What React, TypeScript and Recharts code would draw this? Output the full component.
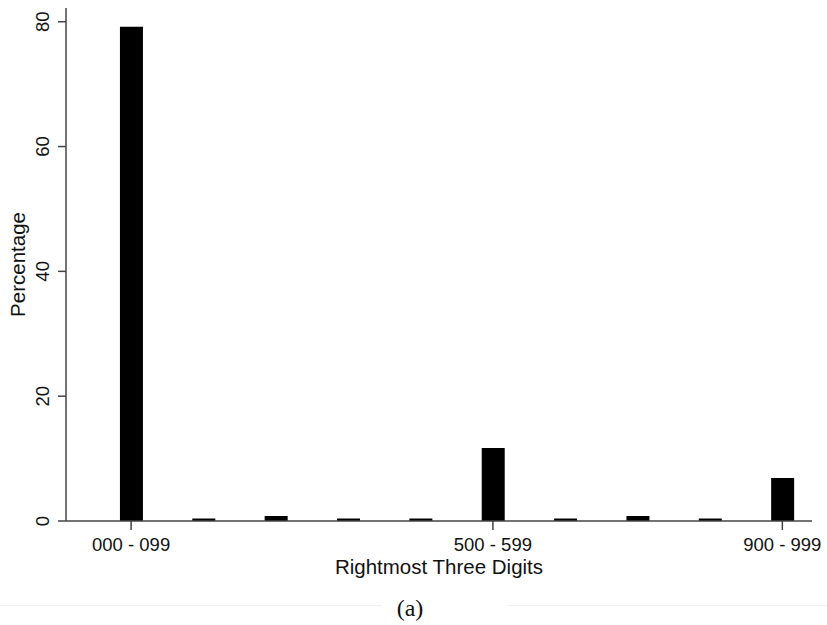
import React from 'react';
import { BarChart, Bar, XAxis, YAxis, Label } from 'recharts';

// Share of values by their rightmost three digits, in bins of 100
const binIndex = [0, 1, 2, 3, 4, 5, 6, 7, 8, 9];
const binLabels = [
  '000 - 099', '100 - 199', '200 - 299', '300 - 399', '400 - 499',
  '500 - 599', '600 - 699', '700 - 799', '800 - 899', '900 - 999',
];
const percentages = [79.2, 0.4, 0.8, 0.4, 0.4, 11.7, 0.4, 0.8, 0.4, 6.9];

const xTicks = [0, 5, 9];
const yTicks = [0, 20, 40, 60, 80];

const data = binIndex.map((i) => ({
  bin: i,
  label: binLabels[i],
  pct: percentages[i],
}));

const AXIS = '#444';
const SANS = '"Liberation Sans", Arial, Helvetica, sans-serif';

const XTick = ({ x, y, payload }: any) => (
  <text
    x={x}
    y={y + 12}
    dy="0.36em"
    textAnchor="middle"
    fontFamily={SANS}
    fontSize={18.5}
    fill="#111"
  >
    {binLabels[payload.value]}
  </text>
);

const YTick = ({ x, y, payload }: any) => {
  const cx = x - 16;
  return (
    <text
      x={cx}
      y={y}
      dy="0.36em"
      textAnchor="middle"
      transform={`rotate(-90, ${cx}, ${y})`}
      fontFamily={SANS}
      fontSize={18.5}
      fill="#111"
    >
      {payload.value}
    </text>
  );
};

const YTitle = ({ viewBox }: any) => {
  const cx = viewBox.x + 18;
  const cy = viewBox.y + viewBox.height / 2;
  return (
    <text
      x={cx}
      y={cy}
      dy="0.36em"
      textAnchor="middle"
      transform={`rotate(-90, ${cx}, ${cy})`}
      fontFamily={SANS}
      fontSize={20.5}
      fill="#111"
    >
      Percentage
    </text>
  );
};

const XTitle = ({ viewBox }: any) => (
  <text
    x={viewBox.x + viewBox.width / 2}
    y={viewBox.y + 46}
    dy="0.36em"
    textAnchor="middle"
    fontFamily={SANS}
    fontSize={20.5}
    fill="#111"
  >
    Rightmost Three Digits
  </text>
);

export default function App() {
  return (
    <div style={{ position: 'absolute', left: 0, top: 0, width: 827, height: 625, background: '#fff' }}>
      <BarChart
        width={827}
        height={590}
        data={data}
        margin={{ top: 8, right: 15, bottom: 0, left: 0 }}
      >
        <XAxis
          dataKey="bin"
          type="number"
          domain={[-0.9, 9.41]}
          ticks={xTicks}
          interval={0}
          height={69}
          tickSize={9}
          tickMargin={2}
          stroke={AXIS}
          strokeWidth={1.5}
          tick={<XTick />}
          allowDataOverflow
        >
          <Label content={<XTitle />} />
        </XAxis>
        <YAxis
          domain={[0, 82.2]}
          ticks={yTicks}
          width={66}
          tickSize={8}
          tickMargin={0}
          stroke={AXIS}
          strokeWidth={1.5}
          tick={<YTick />}
          allowDataOverflow
        >
          <Label content={<YTitle />} />
        </YAxis>
        <Bar dataKey="pct" fill="#000" barSize={23} isAnimationActive={false} />
      </BarChart>
      <div
        style={{
          position: 'absolute',
          left: 0,
          top: 605,
          width: 827,
          height: 1,
          background: 'linear-gradient(to right, #f0f0f0 0, #f0f0f0 382px, transparent 382px, transparent 508px, #f0f0f0 508px)',
        }}
      />
      <div
        style={{
          position: 'absolute',
          left: 360,
          width: 100,
          top: 594,
          textAlign: 'center',
          fontFamily: '"Liberation Serif", "Times New Roman", serif',
          fontSize: 24,
          lineHeight: '28px',
          color: '#111',
        }}
      >
        (a)
      </div>
    </div>
  );
}
